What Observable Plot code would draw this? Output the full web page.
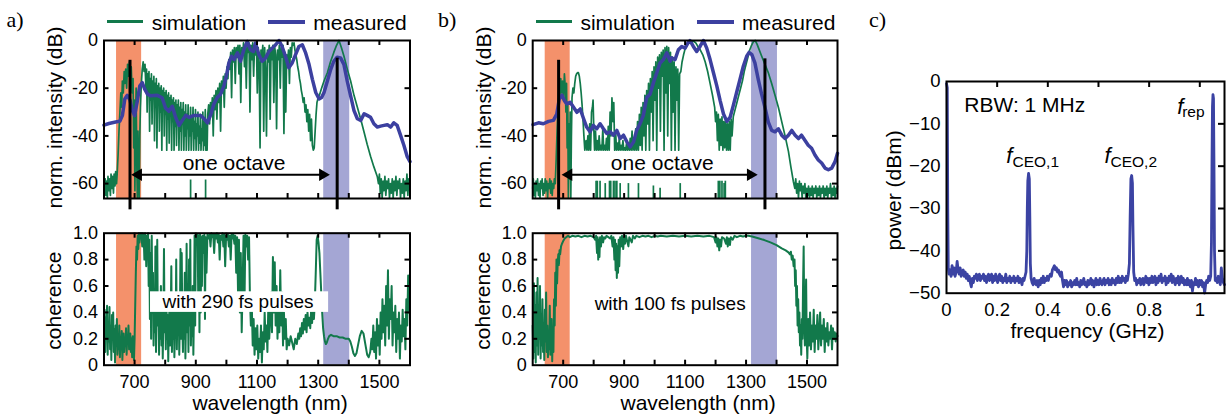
<!DOCTYPE html>
<html>
<head>
<meta charset="utf-8">
<script src="https://cdn.jsdelivr.net/npm/d3@7"></script>
<script src="https://cdn.jsdelivr.net/npm/@observablehq/plot@0.6"></script>
<style>
html,body{margin:0;padding:0;background:#fff;}
#root{position:relative;width:1230px;height:416px;overflow:hidden;background:#fff;font-family:'Liberation Sans',Arial,sans-serif;color:#000;}
.letter{position:absolute;font-family:'Liberation Serif','Times New Roman',serif;font-size:22px;line-height:22px;white-space:nowrap;}
.legline{position:absolute;height:0;}
.legtext{position:absolute;font-size:21px;line-height:21px;white-space:nowrap;}
</style>
</head>
<body>
<div id="root"></div>
<script>
// ---------------- data ----------------
const bandsNm = [[641, 723], [1318, 1403]];
const bandColors = ["#f4916b", "#a4a6d4"];

const wlTicks = [700, 800, 900, 1000, 1100, 1200, 1300, 1400, 1500];
const wlLabels = [700, 900, 1100, 1300, 1500];
const dbTicks = [-60, -40, -20];
const dbLabels = [0, -20, -40, -60];
const cohTicks = [0.2, 0.4, 0.6, 0.8];
const cohLabels = [0, 0.2, 0.4, 0.6, 0.8, 1.0];
const freqTicks = [0.2, 0.4, 0.6, 0.8, 1];
const freqLabels = [0, 0.2, 0.4, 0.6, 0.8, 1];
const powTicks = [-10, -20, -30, -40];
const powLabels = [0, -10, -20, -30, -40, -50];

// octave markers [nm, top dB]; arrow [leftTip, rightTip, dB]
const octaveA = [[685, -8.3], [1362, -7.4]];
const octaveB = [[685, -8.3], [1362, -7.7]];
const arrowA = [689, 1338, -56.3];
const arrowB = [695, 1338, -56.3];
const octaveText = [1025, -54.2, "one octave"];

// panel a: simulation (nm, dB)
const simA = [
[600,-60],[602,-64],[604,-58],[606,-65],[609,-59],[611,-66],[613,-57],[616,-63],[618,-58],[621,-65],[623,-56],[626,-62],[628,-57],[631,-64],[633,-56],[636,-61],[638,-55],[641,-60],[643,-56],
[646,-48],[649,-38],[652,-30],[655,-22],[658,-28],[660,-17],[663,-22],[666,-13],[668,-18],[671,-12],[674,-20],[677,-10],[680,-15],[683,-9],[686,-14],[689,-11],[692,-22],[695,-16],[697,-45],[699,-25],[701,-63],[703,-35],[705,-20],[707,-50],[709,-66],[711,-38],[713,-55],[715,-66],[717,-40],[719,-28],[722,-18],[725,-12],[728,-9],[731,-13],[734,-10],
[737,-20],[739,-12],[741,-30],[743,-14],[745,-22],[747,-13],[749,-38],[751,-16],[753,-25],[755,-14],[757,-35],[759,-17],[761,-24],[763,-15],[765,-42],[767,-18],[769,-28],[771,-16],[773,-45],[775,-19],[777,-27],[779,-18],[781,-38],[783,-20],[785,-30],[787,-19],[789,-46],[791,-21],[793,-29],[795,-20],[797,-40],[799,-22],[801,-31],[803,-21],[805,-46],[807,-23],[809,-33],[811,-22],[813,-43],[815,-24],[817,-30],[819,-23],[821,-46],[823,-25],[825,-34],[827,-24],[829,-46],[831,-26],[833,-36],[835,-25],[837,-44],[839,-27],[841,-33],[843,-25],[845,-46],[847,-28],[849,-38],[851,-26],[853,-46],[855,-29],[857,-35],[859,-26],[861,-46],[863,-30],[865,-40],[867,-27],[869,-46],[871,-31],[873,-37],[875,-27],[877,-46],[879,-32],[881,-40],[883,-28],[885,-46],[887,-33],[889,-38],[891,-28],[893,-46],[895,-34],[897,-41],[899,-29],[901,-46],[903,-35],[905,-40],[907,-30],[909,-46],[911,-36],[913,-43],[915,-31],[917,-46],[919,-37],[921,-42],[923,-30],[925,-46],[927,-34],[929,-44],[931,-29],[933,-46],[935,-35],[937,-46],[939,-31],
[942,-27],[945,-35],[948,-26],[951,-31],[954,-24],[957,-40],[960,-23],[963,-29],[966,-21],[969,-33],[972,-20],[975,-26],[978,-18],[981,-38],[984,-17],[987,-22],[990,-15],[993,-28],[996,-14],[999,-20],[1002,-11],[1005,-16],[1008,-8],
[1011,-12],[1014,-5],[1017,-24],[1020,-4],[1023,-9],[1026,-3],[1029,-18],[1032,-3],[1035,-7],[1038,-2],[1041,-14],[1044,-2],[1047,-26],[1050,-3],[1053,-6],[1056,-1],[1059,-11],[1062,-2],[1065,-20],[1068,-2],[1071,-5],[1074,-1],[1077,-30],[1080,-2],[1083,-8],[1086,-1],[1089,-15],[1092,-2],[1095,-6],[1098,-1],[1101,-22],[1104,-3],[1107,-9],[1110,-45],[1113,-4],[1116,-7],[1119,-2],[1122,-38],[1125,-3],[1128,-12],[1131,-40],[1134,-4],[1137,-9],[1140,-2],[1143,-33],[1146,-3],[1149,-8],[1152,-2],[1155,-26],[1158,-3],[1161,-6],[1164,-37],[1167,-4],[1170,-8],[1173,-2],[1176,-20],[1179,-3],[1182,-7],[1185,-2],[1188,-39],[1191,-5],[1194,-30],[1197,-6],[1200,-10],[1203,-4],[1206,-18],[1209,-3],[1212,-7],[1215,-1],[1218,-2],[1221,-1],[1224,-4],
[1227,-6],[1230,-8],[1233,-11],[1236,-13],[1239,-16],[1242,-18],[1245,-21],[1248,-23],[1251,-26],[1254,-24],[1257,-30],[1260,-27],[1263,-34],[1266,-29],[1269,-38],[1272,-31],[1275,-42],[1278,-33],[1281,-44],[1284,-46],[1287,-45],[1290,-38],[1293,-31],[1296,-26],[1300,-24],[1305,-22.5],[1311,-20],[1319,-17],[1330,-13.5],[1340,-9],[1351,-5],[1360,-2],[1368,0],[1376,-3],[1384,-6.5],[1395,-12],[1406,-17],[1417,-23],[1428,-28],[1439,-33],[1450,-38.5],[1460,-43.5],[1471,-48.5],[1482,-53],[1493,-57],
[1497,-60],[1500,-56],[1503,-64],[1506,-58],[1509,-66],[1512,-59],[1515,-63],[1518,-57],[1521,-65],[1524,-59],[1527,-62],[1530,-58],[1533,-66],[1536,-60],[1539,-64],[1542,-58],[1545,-66],[1548,-59],[1551,-63],[1554,-57],[1557,-65],[1560,-59],[1563,-62],[1566,-58],[1569,-66],[1572,-60],[1575,-64],[1578,-58],[1581,-66],[1584,-59],[1587,-63],[1590,-56],[1593,-65],[1596,-58],[1600,-62]
];
const spikesA = [[883, -58.5], [932, -58.5]];

// panel a: measured (nm, dB)
const measA = [
[600,-35.5],[616,-34.8],[638,-34.2],[652,-33.8],[660,-31.5],[668,-24.5],[676,-23],[685,-25],[693,-29.5],[700,-31.5],[709,-25.3],[717,-19],[725,-17.7],[733,-20.4],[742,-22.5],[752,-23.2],[774,-23],[790,-24],[801,-28.3],[812,-29.7],[823,-27.6],[834,-32.2],[845,-35.6],[856,-33.5],[867,-31.4],[878,-32.2],[894,-31.4],[916,-31.4],[927,-32.8],[938,-34.5],[948,-31.4],[959,-26.6],[970,-23.9],[981,-22.5],[992,-19],[1001,-14.2],[1008,-9.4],[1017,-6.6],[1025,-8],[1036,-5.2],[1046,-8.7],[1057,-3.9],[1068,-0.4],[1079,-3.9],[1088,-4.6],[1095,-1.1],[1106,-5.9],[1117,-8.7],[1128,-7.3],[1139,-4.6],[1150,-3.2],[1161,-1.8],[1172,0],[1182,-2.5],[1193,-6.6],[1204,-11.4],[1215,-9.4],[1226,-5.9],[1237,-2.5],[1248,-1.8],[1259,-5.2],[1270,-10],[1281,-16.3],[1292,-21.8],[1303,-24.5],[1311,-23.9],[1319,-21.8],[1330,-17],[1341,-12.1],[1351,-8.7],[1362,-7],[1373,-7.3],[1384,-10],[1395,-17],[1406,-23.2],[1417,-29.4],[1428,-32.8],[1439,-33.5],[1450,-30.7],[1460,-31.4],[1471,-32.2],[1482,-34.9],[1493,-36.3],[1504,-35.9],[1515,-35.6],[1526,-35.3],[1537,-36.3],[1547,-34.5],[1558,-35.6],[1569,-39.7],[1580,-43.9],[1591,-48.7],[1600,-50.8]
];

// panel b: simulation (nm, dB)
const simB = [
[600,-62],[602,-58],[604,-65],[606,-60],[609,-66],[611,-59],[614,-63],[616,-58],[619,-65],[621,-60],[624,-66],[626,-59],[629,-62],[631,-58],[634,-65],[636,-60],[639,-64],[641,-58],[644,-63],[646,-59],[649,-66],[651,-60],[654,-62],[656,-58],[659,-64],[661,-59],[664,-65],[666,-60],[669,-62],[671,-58],[674,-60],
[677,-50],[680,-38],[683,-28],[686,-20],[689,-24],[692,-16],[695,-22],[698,-17],[701,-25],[704,-14],[707,-20],[709,-30],[711,-18],[713,-45],[715,-26],[717,-66],[719,-35],[721,-58],[723,-30],[725,-66],[727,-40],[729,-24],[732,-20],[735,-22],[738,-18],[741,-15],[744,-14],[747,-13.5],[750,-13.5],[753,-15],[756,-18],[759,-22],[762,-27],[765,-33],[768,-40],[771,-46],
[775,-42],[778,-46],[781,-40],[784,-46],[787,-35],[790,-46],[793,-30],[796,-28],[798,-25],[800,-35],[803,-46],[806,-38],[809,-46],[812,-42],[815,-46],[818,-40],[821,-46],[824,-44],[827,-46],[830,-37],[833,-46],[836,-44],[839,-46],[842,-41],[845,-46],[848,-36],[851,-46],[854,-30],[857,-40],[860,-24],[863,-34],[866,-26],[869,-46],[872,-38],[875,-46],[878,-43],[881,-46],[884,-41],[887,-46],[890,-44],[893,-46],[896,-42],[899,-46],[902,-45],[905,-46],[908,-43],[911,-46],[914,-44],[917,-46],[920,-41],[923,-46],[926,-38],[929,-46],[932,-42],[935,-46],[938,-37],[941,-46],[944,-34],[947,-46],[950,-31],[953,-44],[956,-28],[959,-46],[962,-26],[965,-40],[968,-23],[971,-46],[974,-21],[977,-35],[980,-18],[983,-46],[986,-16],[989,-30],[992,-13],[995,-42],[998,-11],[1001,-25],[1004,-9],[1007,-46],[1010,-7],[1013,-20],[1016,-6],[1019,-38],[1022,-5],[1025,-15],[1028,-4],[1031,-46],[1034,-3],[1037,-22],[1040,-2.5],[1043,-40],[1046,-3],[1049,-18],[1052,-5],[1055,-46],[1058,-7],[1061,-30],[1064,-9],[1067,-46],[1070,-11],[1073,-25],[1076,-12],[1079,-46],[1082,-14],
[1086,-13],[1090,-9],[1095,-6],[1100,-3.5],[1106,-2],[1112,-1],[1120,-0.5],[1128,-0.3],[1135,-1],[1142,-2.5],[1150,-4],[1158,-6],[1166,-9],[1174,-13],[1182,-18],[1190,-23],[1197,-28],
[1200,-34],[1203,-30],[1206,-42],[1209,-31],[1212,-46],[1215,-33],[1218,-44],[1221,-32],[1224,-46],[1227,-34],[1230,-45],[1233,-33],[1236,-46],[1239,-35],[1242,-46],[1245,-34],[1248,-46],[1251,-33],[1254,-40],
[1258,-32],[1264,-29],[1270,-26],[1276,-23],[1282,-20],[1288,-17],[1294,-13],[1300,-10],[1306,-7],[1312,-4],[1318,-2],[1324,-0.5],[1330,0],[1336,-1.5],[1342,-3.5],[1351,-6.5],[1362,-10],[1373,-13.5],[1384,-18],[1395,-23],[1406,-28],[1417,-34],[1428,-40],[1439,-46.5],[1447,-53],[1455,-59],
[1460,-62],[1463,-58],[1466,-64],[1469,-60],[1472,-66],[1475,-59],[1478,-63],[1481,-60],[1484,-66],[1487,-61],[1490,-64],[1493,-60],[1496,-66],[1499,-62],[1502,-65],[1505,-61],[1508,-66],[1511,-62],[1514,-65],[1517,-61],[1520,-66],[1523,-62],[1526,-64],[1529,-61],[1532,-66],[1535,-62],[1538,-65],[1541,-61],[1544,-66],[1547,-62],[1550,-64],[1553,-61],[1556,-66],[1559,-62],[1562,-65],[1565,-61],[1568,-66],[1571,-62],[1574,-64],[1577,-60],[1580,-66],[1583,-62],[1586,-65],[1589,-61],[1592,-66],[1595,-62],[1598,-64],[1600,-61]
];
const spikesB = [[808,-59],[812,-59],[821,-59],[838,-60],[852,-59],[856,-59],[865,-59],[870,-59],[876,-59],[887,-60],[914,-60],[947,-60],[996,-61],[1018,-62],[1084,-60],[1209,-59],[1214,-59],[1221,-59],[1228,-60],[1232,-59]];

// panel b: measured (nm, dB)
const measB = [
[601,-35.3],[619,-34.5],[635,-34.9],[652,-33.9],[668,-33.5],[679,-30.8],[687,-24.6],[696,-22.9],[704,-25.2],[712,-26.6],[723,-25.9],[734,-28],[745,-30.1],[756,-28.7],[767,-32.8],[777,-36.3],[788,-38.3],[799,-35.6],[810,-37],[821,-34.9],[832,-37],[843,-39],[854,-38.3],[865,-39.7],[876,-37.7],[887,-41.1],[898,-39.7],[909,-42.5],[920,-44.6],[931,-42.5],[941,-37.7],[952,-34.9],[963,-31.4],[974,-23.9],[985,-22.5],[996,-17.7],[1007,-13.5],[1018,-9.4],[1029,-8],[1040,-5.2],[1051,-8.7],[1056,-7.3],[1067,-8],[1078,-3.9],[1089,-2.5],[1100,-3.2],[1109,-1.1],[1116,0],[1127,-2.5],[1138,-4.6],[1149,-2.5],[1160,0],[1171,-3.2],[1182,-8],[1193,-13.5],[1204,-19],[1215,-25.2],[1226,-30.8],[1237,-33.9],[1248,-32.1],[1258,-27.3],[1269,-21.8],[1280,-16.3],[1291,-10.8],[1302,-6.6],[1310,-5],[1319,-5.9],[1329,-9.4],[1340,-16.3],[1351,-22.5],[1362,-28],[1373,-34.2],[1384,-37.7],[1395,-38.3],[1406,-37],[1417,-39.7],[1428,-41.1],[1439,-39.7],[1450,-37.7],[1461,-39.7],[1472,-41.1],[1482,-39.7],[1493,-41.8],[1504,-43.9],[1515,-45.2],[1526,-48],[1537,-50.1],[1548,-51.4],[1559,-53.5],[1570,-54.2],[1581,-53.5],[1592,-50.8],[1600,-47.3]
];

// coherence panel a (nm, coherence)
const cohA = [
[600,0.26],[602,0.42],[604,0.1],[606,0.36],[608,0.2],[610,0.45],[612,0.08],[614,0.33],[616,0.18],[618,0.44],[620,0.12],[622,0.3],[624,0.04],[626,0.38],[628,0.2],[630,0.4],[632,0.1],[634,0.27],[636,0.02],[638,0.3],[640,0.15],[642,0.35],[644,0.08],[646,0.22],[648,0.12],[650,0.3],[652,0.06],[654,0.2],[656,0.14],[658,0.26],[660,0.04],[662,0.18],[664,0.24],[666,0.1],[668,0.2],[670,0.15],[672,0.28],[674,0.08],[676,0.22],[678,0.16],[680,0.3],[682,0.12],[684,0.19],[686,0.24],[688,0.1],[690,0.2],[692,0.06],[694,0.22],[696,0.15],[698,0.04],[700,0.2],
[702,0.45],[704,0.7],[706,0.9],[708,0.8],[710,0.98],[712,0.88],[714,1.0],[716,0.93],[718,1.0],[720,0.97],[722,1.0],[725,0.9],[727,1.0],[730,0.95],[732,0.8],[734,1.0],[736,0.96],[738,0.75],[740,0.98],[742,0.9],[744,1.0],[746,0.6],[748,0.95],[750,0.35],[752,0.85],[754,0.2],[756,0.98],[758,0.4],[760,0.7],[762,0.15],[764,0.5],[766,0.25],[768,0.9],[770,0.1],[772,0.45],[774,0.95],[776,0.3],[778,0.5],[780,0.08],[782,0.4],[784,0.2],[786,0.6],[788,0.15],[790,0.45],[792,0.05],[794,0.35],[796,0.88],[798,0.25],[800,0.42],[802,0.12],[804,0.5],[806,0.2],[808,0.38],[810,0.03],[812,0.3],[814,0.45],[816,0.15],[818,0.35],[820,0.75],[822,0.1],[824,0.4],[826,0.2],[828,0.48],[830,0.06],[832,0.3],[834,0.22],[836,0.8],[838,0.12],[840,0.4],[842,0.25],[844,0.5],[846,0.08],[848,0.35],[850,0.88],[852,0.2],[854,0.85],[856,0.3],[858,0.1],[860,0.45],[862,0.2],[864,0.7],[866,0.05],[868,0.35],[870,0.92],[872,0.25],[874,0.5],[876,0.1],[878,0.8],[880,0.3],[882,0.95],[884,0.15],[886,0.45],[888,0.22],[890,0.6],[892,0.08],[894,0.4],[896,0.98],[898,0.3],[900,0.99],[903,0.97],[906,0.99],[908,0.5],[910,0.98],[912,0.25],[914,0.99],[916,0.4],[918,0.97],[920,0.6],[922,0.98],[925,0.85],[928,0.99],[930,0.35],[932,0.97],[935,0.7],[938,0.99],
[942,0.96],[945,0.99],[948,0.9],[951,1.0],[954,0.97],[957,0.99],[960,0.85],[963,0.99],[966,0.96],[969,1.0],[972,0.93],[975,0.99],[978,0.8],[981,0.98],[984,0.95],[987,1.0],[990,0.9],[993,0.99],[996,0.75],[999,0.98],[1002,0.95],[1005,0.99],[1008,0.9],[1011,0.98],[1014,0.8],[1017,0.99],[1020,0.96],[1023,0.99],[1026,0.92],[1029,0.98],[1032,0.7],[1035,0.97],[1038,0.55],[1041,0.95],[1044,0.4],[1047,0.85],[1050,0.25],[1053,0.6],[1056,0.98],[1059,0.45],[1062,0.99],[1065,0.9],[1068,0.98],[1071,0.8],[1074,0.97],[1077,0.5],
[1080,0.3],[1083,0.45],[1086,0.15],[1089,0.35],[1092,0.08],[1095,0.28],[1098,0.12],[1101,0.3],[1104,0.05],[1107,0.2],[1110,0.1],[1113,0.3],[1116,0.02],[1119,0.25],[1122,0.12],[1125,0.4],[1128,0.18],[1131,0.3],[1134,0.1],[1137,0.45],[1140,0.2],[1143,0.35],[1146,0.55],[1149,0.25],[1152,0.82],[1155,0.4],[1158,0.78],[1161,0.3],[1164,0.6],[1167,0.2],[1170,0.5],[1173,0.25],[1176,0.72],[1179,0.3],[1182,0.55],[1185,0.15],[1188,0.4],[1191,0.2],[1194,0.35],[1197,0.12],[1200,0.2],[1205,0.15],[1210,0.22],[1215,0.17],[1220,0.12],[1225,0.2],[1230,0.16],[1235,0.24],[1238,0.2],[1241,0.28],[1244,0.22],[1247,0.32],[1250,0.24],[1253,0.35],[1256,0.27],[1259,0.38],[1262,0.25],[1265,0.4],[1268,0.3],[1271,0.36],[1274,0.28],[1277,0.42],[1280,0.32],[1283,0.45],[1286,0.35],[1289,0.48],
[1292,0.7],[1295,0.95],[1298,0.98],[1301,0.93],[1304,0.85],[1307,0.7],[1310,0.55],[1313,0.4],[1316,0.28],[1319,0.22],[1322,0.18],[1325,0.16],[1328,0.17],[1332,0.2],[1336,0.22],[1342,0.23],[1350,0.22],[1360,0.22],[1370,0.21],[1380,0.21],[1390,0.2],[1400,0.2],[1405,0.18],[1410,0.14],[1415,0.09],[1420,0.07],[1425,0.09],[1430,0.15],[1436,0.22],[1442,0.26],[1448,0.24],[1454,0.16],[1460,0.08],[1465,0.06],[1470,0.1],
[1474,0.2],[1477,0.12],[1480,0.3],[1483,0.1],[1486,0.25],[1489,0.05],[1492,0.35],[1495,0.15],[1498,0.3],[1501,0.08],[1504,0.4],[1507,0.2],[1510,0.5],[1513,0.25],[1516,0.45],[1519,0.15],[1522,0.6],[1525,0.3],[1528,0.72],[1531,0.2],[1534,0.5],[1537,0.35],[1540,0.6],[1543,0.15],[1546,0.4],[1549,0.25],[1552,0.45],[1555,0.1],[1558,0.35],[1561,0.2],[1564,0.4],[1567,0.05],[1570,0.3],[1573,0.18],[1576,0.42],[1579,0.22],[1582,0.35],[1585,0.12],[1588,0.5],[1591,0.3],[1594,0.68],[1597,0.4],[1600,0.7]
];

// coherence panel b (nm, coherence)
const cohB = [
[600,0.3],[602,0.05],[604,0.62],[606,0.1],[608,0.45],[610,0.02],[612,0.55],[614,0.15],[616,0.66],[618,0.08],[620,0.4],[622,0.2],[624,0.6],[626,0.05],[628,0.35],[630,0.15],[632,0.5],[634,0.1],[636,0.3],[638,0.04],[640,0.42],[642,0.18],[644,0.55],[646,0.1],[648,0.3],[650,0.06],[652,0.25],[654,0.12],[656,0.45],[658,0.08],[660,0.2],[662,0.35],[664,0.03],[666,0.28],[668,0.1],
[670,0.5],[672,0.3],[674,0.7],[676,0.45],[678,0.8],[680,0.62],[682,0.78],[684,0.84],[686,0.76],[688,0.87],[690,0.84],[693,0.9],[696,0.92],[700,0.94],[705,0.96],[710,0.97],[716,0.98],[722,0.97],[730,0.98],[740,0.975],[750,0.98],[760,0.97],[770,0.98],[780,0.975],[790,0.98],[800,0.97],[805,0.95],[808,0.98],[811,0.85],[813,0.97],[815,0.8],[817,0.95],[819,0.82],[821,0.97],[824,0.9],[827,0.98],[831,0.93],[834,0.97],[838,0.96],[842,0.98],[848,0.97],[854,0.96],[858,0.98],[862,0.9],[865,0.97],[868,0.8],[870,0.95],[872,0.72],[874,0.92],[876,0.66],[878,0.9],[880,0.7],[882,0.95],[884,0.75],[887,0.97],[890,0.9],[893,0.98],[897,0.88],[900,0.97],[903,0.92],[906,0.98],[910,0.94],[914,0.9],[917,0.97],[921,0.95],[925,0.93],[929,0.98],[935,0.96],[940,0.98],[950,0.97],[960,0.98],[970,0.975],[980,0.98],[990,0.97],[1000,0.98],[1010,0.975],[1020,0.98],[1040,0.975],[1060,0.98],[1080,0.975],[1100,0.98],[1120,0.975],[1140,0.98],[1160,0.975],[1180,0.98],[1195,0.97],[1200,0.93],[1203,0.97],[1206,0.9],[1209,0.96],[1212,0.87],[1215,0.95],[1218,0.9],[1221,0.97],[1228,0.96],[1234,0.92],[1237,0.97],[1240,0.9],[1243,0.96],[1247,0.91],[1250,0.97],[1256,0.95],[1262,0.98],[1270,0.97],[1280,0.98],[1290,0.975],[1300,0.98],[1307,0.98],
[1320,0.975],[1340,0.962],[1360,0.948],[1380,0.93],[1400,0.91],[1417,0.885],[1430,0.87],[1439,0.855],[1444,0.84],[1447,0.86],[1450,0.8],[1453,0.83],[1456,0.75],[1459,0.8],[1461,0.6],[1463,0.72],[1465,0.45],[1467,0.6],[1469,0.3],[1471,0.5],[1473,0.25],[1475,0.4],[1477,0.15],[1479,0.3],[1481,0.08],[1483,0.35],[1485,0.2],[1487,0.6],[1489,0.9],[1491,0.3],[1493,0.15],[1495,0.4],[1497,0.65],[1499,0.2],
[1501,0.05],[1504,0.35],[1507,0.15],[1510,0.4],[1513,0.12],[1516,0.3],[1519,0.18],[1522,0.42],[1525,0.1],[1528,0.3],[1531,0.2],[1534,0.38],[1537,0.12],[1540,0.25],[1543,0.4],[1546,0.15],[1549,0.3],[1552,0.2],[1555,0.35],[1558,0.1],[1561,0.28],[1564,0.18],[1567,0.32],[1570,0.15],[1573,0.25],[1576,0.2],[1579,0.3],[1582,0.12],[1585,0.28],[1588,0.2],[1591,0.25],[1594,0.18],[1597,0.24],[1600,0.22]
];
const boxA = [752, 1334, 0.40, 0.556];
const pulseTextA = [1038, 0.43, "with 290 fs pulses"];
const pulseTextB = [1051, 0.42, "with 100 fs pulses"];

// panel c: RF spectrum (GHz, dBm)
const specC = [
[0.000,-0.5],[0.003,-1.5],[0.005,-30],[0.007,-44],[0.010,-45.5],[0.014,-44.5],[0.018,-46],[0.022,-43.5],[0.026,-45.5],[0.030,-44],[0.034,-46],[0.038,-45],[0.042,-42.5],[0.046,-44.5],[0.050,-45.5],[0.054,-44],[0.058,-46],[0.062,-45],[0.066,-44.5],[0.070,-46],[0.074,-45],[0.078,-46.5],[0.082,-45.5],[0.086,-47],[0.090,-46],[0.094,-47.5],[0.098,-48.5],[0.102,-46.5],[0.106,-47.5],[0.110,-46],[0.114,-46.5],[0.118,-45.5],[0.122,-47],[0.126,-46],[0.130,-45.5],[0.134,-47],[0.138,-46],[0.142,-46.5],[0.146,-45.5],[0.150,-47],[0.154,-46],[0.158,-47.5],[0.162,-46],[0.166,-45.5],[0.170,-47],[0.174,-46.5],[0.178,-45.5],[0.182,-47.5],[0.186,-46],[0.190,-47],[0.194,-45.5],[0.198,-46.5],[0.202,-47.5],[0.206,-46],[0.210,-45.5],[0.214,-47],[0.218,-46],[0.222,-47.5],[0.226,-46.5],[0.230,-47],[0.234,-45.5],[0.238,-47.5],[0.242,-46.5],[0.246,-47],[0.250,-46],[0.254,-47.5],[0.258,-46.5],[0.262,-47],[0.266,-46],[0.270,-47.5],[0.274,-46.5],[0.278,-47],[0.282,-46],[0.286,-47.5],[0.290,-46.5],[0.294,-47],[0.298,-48],[0.302,-46.5],[0.306,-47],[0.310,-46],[0.314,-45],
[0.317,-40],[0.319,-30],[0.321,-23.5],[0.324,-21.7],[0.327,-23],[0.329,-32],[0.331,-43],[0.334,-46.5],
[0.338,-47.5],[0.342,-48],[0.346,-46.5],[0.350,-47.5],[0.354,-48],[0.358,-47],[0.362,-48.5],[0.366,-47],[0.370,-48],[0.374,-46.5],[0.378,-47.5],[0.382,-46],[0.386,-47.5],[0.390,-46.5],[0.394,-47],[0.398,-46],[0.402,-47],[0.406,-46],[0.410,-45.5],[0.414,-46],[0.418,-44.5],[0.422,-44],[0.426,-43.5],[0.430,-44.5],[0.434,-44],[0.438,-45],[0.442,-44.5],[0.446,-45.5],[0.450,-46],[0.454,-45],[0.458,-47],[0.462,-48.5],[0.466,-47],[0.470,-48],[0.474,-47],[0.478,-48.5],[0.482,-47.5],[0.486,-48],[0.490,-47],[0.494,-48.5],[0.498,-47.5],[0.502,-48],[0.506,-47],[0.510,-48],[0.514,-46.5],[0.518,-48],[0.522,-47.5],[0.526,-48.5],[0.530,-47],[0.534,-48],[0.538,-47.5],[0.542,-46.5],[0.546,-48],[0.550,-47.5],[0.554,-48.5],[0.558,-47],[0.562,-48],[0.566,-47.5],[0.570,-46.5],[0.574,-48],[0.578,-47],[0.582,-48.5],[0.586,-47.5],[0.590,-46.5],[0.594,-48],[0.598,-47],[0.602,-48],[0.606,-46.5],[0.610,-47.5],[0.614,-48],[0.618,-47],[0.622,-46.5],[0.626,-48],[0.630,-47],[0.634,-47.5],[0.638,-46.5],[0.642,-48],[0.646,-47],[0.650,-48],[0.654,-46.5],[0.658,-47.5],[0.662,-47],[0.666,-48],[0.670,-46.5],[0.674,-47.5],[0.678,-46],[0.682,-47.5],[0.686,-46.5],[0.690,-47.5],[0.694,-46],[0.698,-47],[0.702,-46.5],[0.706,-47.5],[0.710,-46],[0.714,-47],[0.718,-45.5],
[0.722,-43],[0.725,-32],[0.728,-23],[0.731,-22.2],[0.734,-24],[0.736,-34],[0.739,-45],
[0.743,-47],[0.747,-46.5],[0.751,-48],[0.755,-47],[0.759,-47.5],[0.763,-46.5],[0.767,-48],[0.771,-47],[0.775,-46.5],[0.779,-48],[0.783,-47],[0.787,-46],[0.791,-47.5],[0.795,-46.5],[0.799,-48],[0.803,-46.5],[0.807,-47.5],[0.811,-46],[0.815,-47.5],[0.819,-47],[0.823,-46],[0.827,-48],[0.831,-46.5],[0.835,-47.5],[0.839,-46],[0.843,-47],[0.847,-45.5],[0.851,-47.5],[0.855,-46.5],[0.859,-47],[0.863,-46],[0.867,-48],[0.871,-46.5],[0.875,-47.5],[0.879,-46],[0.883,-47],[0.887,-45.5],[0.891,-47.5],[0.895,-46],[0.899,-47],[0.903,-48],[0.907,-46.5],[0.911,-47.5],[0.915,-46],[0.919,-48],[0.923,-47],[0.927,-46],[0.931,-47.5],[0.935,-46.5],[0.939,-48],[0.943,-47],[0.947,-48],[0.951,-46.5],[0.955,-48],[0.959,-47],[0.963,-48.5],[0.967,-47],[0.971,-49.5],[0.975,-47.5],[0.979,-48],[0.983,-46.5],[0.987,-48],[0.991,-47],[0.995,-48.5],[0.999,-47],[1.003,-48],[1.007,-47],[1.011,-48.5],[1.015,-47.5],[1.019,-50],[1.023,-48],[1.027,-47],[1.031,-47.5],[1.035,-46],[1.039,-47],[1.043,-46],
[1.046,-38],[1.048,-20],[1.050,-6],[1.052,-3.1],[1.054,-4],[1.056,-20],[1.058,-40],
[1.061,-47],[1.065,-46.5],[1.069,-47.5],[1.073,-46],[1.077,-47],[1.081,-48],[1.085,-44],[1.089,-46.5],[1.093,-47.5],[1.0975,-48]
];
// labels in panel c: [x, y, text]
const rbwText = [0.309, -7.25, "RBW: 1 MHz"];
const fMain = [[0.2357, -19.3], [0.6238, -19.3], [0.9107, -7.64]];
const fSubs = [[0.2606, -20.24, "CEO,1"], [0.6475, -20.24, "CEO,2"], [0.9305, -8.43, "rep"]];

// ---------------- drawing ----------------
const GREEN = "#12794b", BLUE = "#3c40a0", BLUEC = "#3b43a3";
const FONT = "'Liberation Sans', Arial, sans-serif";
const root = document.getElementById("root");
const DB_MIN = -66.25, OCT_BOTTOM = -71.0;

function put(node, left, top) {
  node.style.position = "absolute";
  node.style.left = left + "px";
  node.style.top = top + "px";
  node.style.maxWidth = "none";
  node.style.overflow = "visible";
  root.appendChild(node);
}
const fmtDb = d => d === 0 ? "0" : "-" + Math.abs(d);
const fmtCoh = d => d === 0 ? "0" : d.toFixed(1);
const fmtPow = d => d === 0 ? "0" : "\u2212" + Math.abs(d);
const fmtFreq = d => String(d);

function boxTicks(xt, yt, fw, fh, len, sides) {
  const o = {stroke: "black", strokeWidth: 2};
  const m = [];
  if (sides.includes("b")) m.push(Plot.ruleX(xt, {x: d => d, insetTop: fh - len, ...o}));
  if (sides.includes("t")) m.push(Plot.ruleX(xt, {x: d => d, insetBottom: fh - len, ...o}));
  if (sides.includes("l")) m.push(Plot.ruleY(yt, {y: d => d, insetRight: fw - len, ...o}));
  if (sides.includes("r")) m.push(Plot.ruleY(yt, {y: d => d, insetLeft: fw - len, ...o}));
  return m;
}
const baseStyle = {fontFamily: FONT, fontSize: "18px", background: "transparent", color: "black", overflow: "visible"};

function topPanel(c) {
  const fw = 420 - c.mL - c.mR, fh = 158;
  return Plot.plot({
    width: 420, height: 215, marginLeft: c.mL, marginRight: c.mR, marginTop: 40, marginBottom: 17,
    x: {domain: [600, 1600], axis: null},
    y: {domain: [DB_MIN, 0], axis: null},
    color: {type: "identity"},
    style: baseStyle,
    marks: [
      Plot.rect(bandsNm, {x1: d => d[0], x2: d => d[1], y1: DB_MIN, y2: 0, fill: (d, i) => bandColors[i]}),
      Plot.line(c.sim, {x: d => d[0], y: d => d[1], stroke: GREEN, strokeWidth: 1.7}),
      Plot.ruleX(c.spikes, {x: d => d[0], y1: DB_MIN, y2: d => d[1], stroke: GREEN, strokeWidth: 1.7}),
      Plot.line(c.meas, {x: d => d[0], y: d => d[1], stroke: BLUE, strokeWidth: 3.5}),
      Plot.ruleX(c.octave, {x: d => d[0], y1: OCT_BOTTOM, y2: d => d[1], stroke: "black", strokeWidth: 3}),
      Plot.ruleY([c.arrow], {x1: d => d[0], x2: d => d[1], y: d => d[2], stroke: "black", strokeWidth: 2, insetLeft: 5, insetRight: 5}),
      Plot.dot([c.arrow], {x: d => d[0], y: d => d[2], symbol: "triangle", r: 4.6, rotate: -90, dx: 7.1, fill: "black", stroke: "none"}),
      Plot.dot([c.arrow], {x: d => d[1], y: d => d[2], symbol: "triangle", r: 4.6, rotate: 90, dx: -7.1, fill: "black", stroke: "none"}),
      Plot.text([octaveText], {x: d => d[0], y: d => d[1], text: d => d[2], lineAnchor: "bottom", fontSize: 21}),
      Plot.frame({stroke: "black", strokeWidth: 2}),
      ...boxTicks(wlTicks, dbTicks, fw, fh, 5, "btlr"),
      Plot.axisY({ticks: dbLabels, anchor: "left", tickSize: 0, tickPadding: 6, tickFormat: fmtDb, fontSize: 18, label: null}),
      Plot.text(["norm. intensity (dB)"], {text: d => d, frameAnchor: "left", rotate: -90, dx: -57, dy: -2, textAnchor: "middle", lineAnchor: "top", fontSize: 21})
    ]
  });
}

function cohPanel(c) {
  const fw = 420 - c.mL - c.mR, fh = 132;
  const marks = [
    Plot.rect(bandsNm, {x1: d => d[0], x2: d => d[1], y1: 0, y2: 1, fill: (d, i) => bandColors[i]}),
    Plot.line(c.coh, {x: d => d[0], y: d => d[1], stroke: GREEN, strokeWidth: 2})
  ];
  if (c.box) marks.push(Plot.rect([c.box], {x1: d => d[0], x2: d => d[1], y1: d => d[2], y2: d => d[3], fill: "white"}));
  marks.push(
    Plot.text([c.text], {x: d => d[0], y: d => d[1], text: d => d[2], lineAnchor: "bottom", fontSize: 19}),
    Plot.frame({stroke: "black", strokeWidth: 2}),
    ...boxTicks(wlTicks, cohTicks, fw, fh, 5, "btlr"),
    Plot.axisY({ticks: cohLabels, anchor: "left", tickSize: 0, tickPadding: 6, tickFormat: fmtCoh, fontSize: 18, label: null}),
    Plot.axisX({ticks: wlLabels, anchor: "bottom", tickSize: 0, tickPadding: 10, tickFormat: d => String(d), fontSize: 18, label: null}),
    Plot.text(["coherence"], {text: d => d, frameAnchor: "left", rotate: -90, dx: -58, dy: 1.5, textAnchor: "middle", lineAnchor: "top", fontSize: 21}),
    Plot.text(["wavelength (nm)"], {text: d => d, frameAnchor: "bottom", dx: 13, dy: 44.8, textAnchor: "middle", lineAnchor: "bottom", fontSize: 21})
  );
  return Plot.plot({
    width: 420, height: 201, marginLeft: c.mL, marginRight: c.mR, marginTop: 17.7, marginBottom: 51.3,
    x: {domain: [600, 1600], axis: null},
    y: {domain: [0, 1], axis: null},
    color: {type: "identity"},
    style: baseStyle,
    marks
  });
}

function rfPanel() {
  const mL = 106, mR = 6, fw = 390 - mL - mR, fh = 416 - 81 - 123.3;
  return Plot.plot({
    width: 390, height: 416, marginLeft: mL, marginRight: mR, marginTop: 81, marginBottom: 123.3,
    x: {domain: [0, 1.0975], axis: null},
    y: {domain: [-50, 0], axis: null},
    style: baseStyle,
    marks: [
      Plot.line(specC, {x: d => d[0], y: d => d[1], stroke: BLUEC, strokeWidth: 2.8}),
      Plot.frame({stroke: "black", strokeWidth: 2}),
      ...boxTicks(freqTicks, powTicks, fw, fh, 6, "tr"),
      Plot.axisY({ticks: powLabels, anchor: "left", tickSize: 0, tickPadding: 6, tickFormat: fmtPow, fontSize: 18.5, label: null}),
      Plot.axisX({ticks: freqLabels, anchor: "bottom", tickSize: 0, tickPadding: 10, tickFormat: fmtFreq, fontSize: 18.5, label: null}),
      Plot.text([rbwText], {x: d => d[0], y: d => d[1], text: d => d[2], lineAnchor: "bottom", fontSize: 21}),
      Plot.text(fMain, {x: d => d[0], y: d => d[1], text: () => "f", fontStyle: "italic", textAnchor: "start", lineAnchor: "bottom", fontSize: 22}),
      Plot.text(fSubs, {x: d => d[0], y: d => d[1], text: d => d[2], textAnchor: "start", lineAnchor: "bottom", fontSize: 15.5}),
      Plot.text(["power (dBm)"], {text: d => d, frameAnchor: "left", rotate: -90, dx: -60, dy: 3, textAnchor: "middle", lineAnchor: "top", fontSize: 21}),
      Plot.text(["frequency (GHz)"], {text: d => d, frameAnchor: "bottom", dx: 2, dy: 45, textAnchor: "middle", lineAnchor: "bottom", fontSize: 21})
    ]
  });
}

put(topPanel({mL: 103.5, mR: 10.5, sim: simA, meas: measA, spikes: spikesA, octave: octaveA, arrow: arrowA}), 0, 0);
put(cohPanel({mL: 103.5, mR: 10.5, coh: cohA, box: boxA, text: pulseTextA}), 0, 215);
put(topPanel({mL: 112.2, mR: 3, sim: simB, meas: measB, spikes: spikesB, octave: octaveB, arrow: arrowB}), 420, 0);
put(cohPanel({mL: 112.2, mR: 3, coh: cohB, box: null, text: pulseTextB}), 420, 215);
put(rfPanel(), 840, 0);

// legends and panel letters (HTML)
function addDiv(cls, left, top, html, extra) {
  const d = document.createElement("div");
  d.className = cls;
  d.style.left = left + "px";
  d.style.top = top + "px";
  if (extra) Object.assign(d.style, extra);
  d.innerHTML = html;
  root.appendChild(d);
}
function legend(x0) {
  addDiv("legline", x0 + 3.5, 20.2, "", {width: "36px", borderTop: "3px solid " + GREEN});
  addDiv("legtext", x0 + 48.2, 11.5, "simulation");
  addDiv("legline", x0 + 164.8, 19.7, "", {width: "37px", borderTop: "4px solid " + BLUE});
  addDiv("legtext", x0 + 209.8, 11.5, "measured");
}
legend(103.5);
legend(532.2);
addDiv("letter", 6.5, 8.6, "a)");
addDiv("letter", 438, 8.6, "b)");
addDiv("letter", 869, 8.6, "c)");
</script>
</body>
</html>
